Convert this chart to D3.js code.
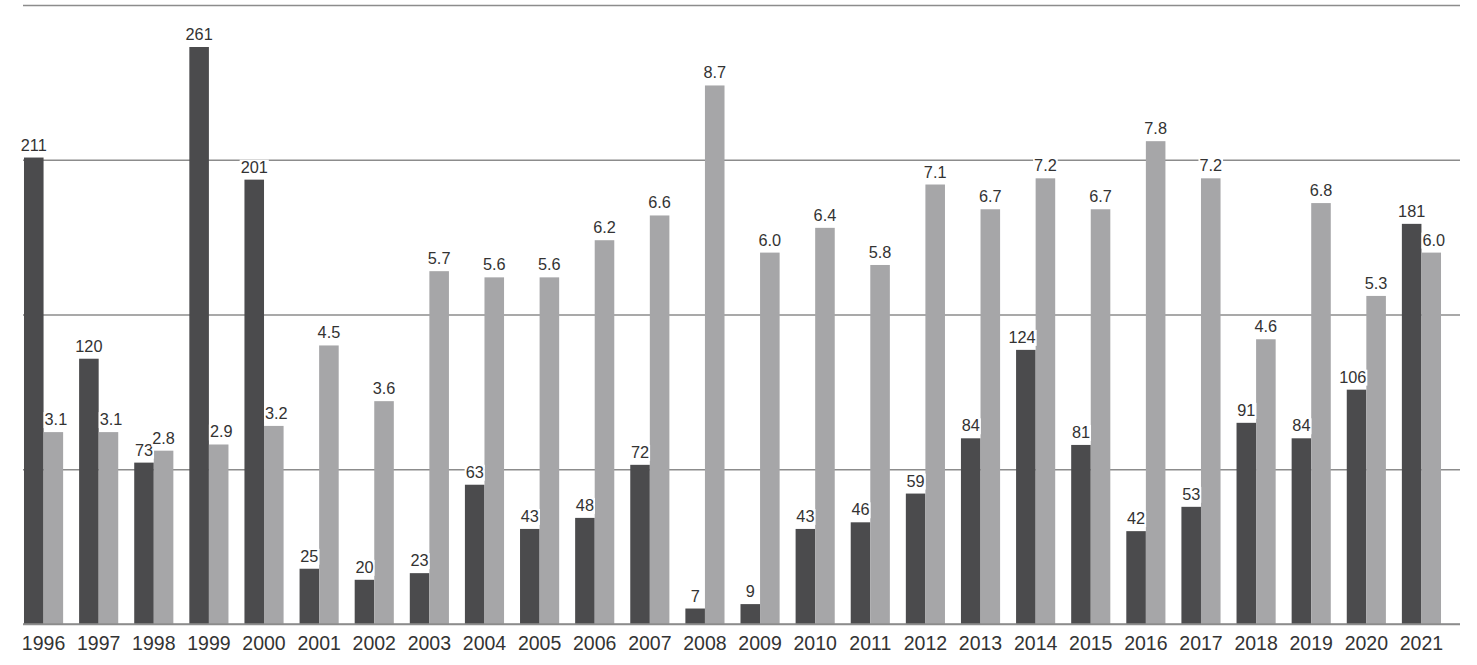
<!DOCTYPE html>
<html>
<head>
<meta charset="utf-8">
<script src="https://cdn.jsdelivr.net/npm/d3@7"></script>
<style>
  body { margin: 0; background: #fff; }
  text { font-family: "Liberation Sans", Arial, sans-serif; }
</style>
</head>
<body>
<div id="chart"></div>
<script>
// years along the bottom
var years = ["1996","1997","1998","1999","2000","2001","2002","2003","2004","2005","2006","2007","2008",
             "2009","2010","2011","2012","2013","2014","2015","2016","2017","2018","2019","2020","2021"];

// dark bars (counts)
var darkValues = [211,120,73,261,201,25,20,23,63,43,48,72,7,9,43,46,59,84,124,81,42,53,91,84,106,181];

// light bars (rates)
var lightValues = [3.1,3.1,2.8,2.9,3.2,4.5,3.6,5.7,5.6,5.6,6.2,6.6,8.7,6.0,6.4,5.8,7.1,6.7,7.2,6.7,7.8,7.2,4.6,6.8,5.3,6.0];

// gridline values on the dark scale
var gridTicks = [0,70,140,210,280];

var width = 1477, height = 665;

var svg = d3.select("#chart").append("svg")
    .attr("width", width)
    .attr("height", height);

var x0 = d3.scaleBand()
    .domain(years)
    .range([16, 1449])
    .paddingInner(0.29)
    .paddingOuter(0.145);

var x1 = d3.scaleBand()
    .domain(["dark","light"])
    .range([0, x0.bandwidth()]);

var yDark = d3.scaleLinear().domain([0, 280]).range([624, 5]);
var yLight = d3.scaleLinear().domain([0, 10]).range([624, 5]);

// gridlines behind bars
var grid = svg.append("g")
    .attr("transform", "translate(1460,0)")
    .call(d3.axisLeft(yDark).tickValues(gridTicks).tickSize(1460 - 23).tickFormat(""));
grid.select(".domain").remove();
grid.selectAll(".tick line").attr("stroke", "#8c8c8c").attr("stroke-width", 1.4);

var data = years.map(function(y, i) {
    return { year: y, dark: darkValues[i], light: lightValues[i] };
});

var groups = svg.append("g").selectAll("g")
    .data(data)
    .enter()
    .append("g")
    .attr("transform", function(d) { return "translate(" + x0(d.year) + ",0)"; });

groups.append("rect")
    .attr("x", x1("dark"))
    .attr("width", x1.bandwidth())
    .attr("y", function(d) { return yDark(d.dark); })
    .attr("height", function(d) { return yDark(0) - yDark(d.dark); })
    .attr("fill", "#4b4b4d");

groups.append("rect")
    .attr("x", x1("light"))
    .attr("width", x1.bandwidth())
    .attr("y", function(d) { return yLight(d.light); })
    .attr("height", function(d) { return yLight(0) - yLight(d.light); })
    .attr("fill", "#a6a6a8");

// value labels with white backing, pushed off the neighbour bar when it is taller
var addLabel = function(g, cx, cy, txt, neighbourTop, side) {
    var bg = g.append("rect").attr("fill", "#fff");
    var t = g.append("text")
        .attr("x", cx)
        .attr("y", cy)
        .attr("text-anchor", "middle")
        .attr("font-size", 16.3)
        .attr("fill", "#333")
        .text(txt);
    var b = t.node().getBBox();
    var bw = x1.bandwidth();
    if (neighbourTop < b.y + b.height) {
        if (side == "dark" && b.x + b.width > bw) {
            t.attr("x", bw - b.width / 2);
        }
        if (side == "light" && b.x < bw) {
            t.attr("x", bw + b.width / 2 + 1);
        }
        b = t.node().getBBox();
    }
    bg.attr("x", b.x - 1).attr("y", b.y + 2).attr("width", b.width + 2).attr("height", b.height - 2);
};

groups.each(function(d) {
    var g = d3.select(this);
    addLabel(g, x1("dark") + x1.bandwidth() / 2, yDark(d.dark) - 7, d.dark, yLight(d.light), "dark");
    addLabel(g, x1("light") + x1.bandwidth() / 2, yLight(d.light) - 7, d.light.toFixed(1), yDark(d.dark), "light");
});

// x axis labels
var xAxis = svg.append("g")
    .attr("transform", "translate(0,624)")
    .call(d3.axisBottom(x0).tickSize(0).tickPadding(12));
xAxis.select(".domain").remove();
xAxis.selectAll("text")
    .attr("font-size", 19.5)
    .attr("fill", "#333")
    .style("font-family", "'Liberation Sans', Arial, sans-serif");

// baseline on top of bars
svg.append("line")
    .attr("x1", 23).attr("x2", 1460)
    .attr("y1", yDark(0)).attr("y2", yDark(0))
    .attr("stroke", "#8c8c8c")
    .attr("stroke-width", 1.4);
</script>
</body>
</html>
